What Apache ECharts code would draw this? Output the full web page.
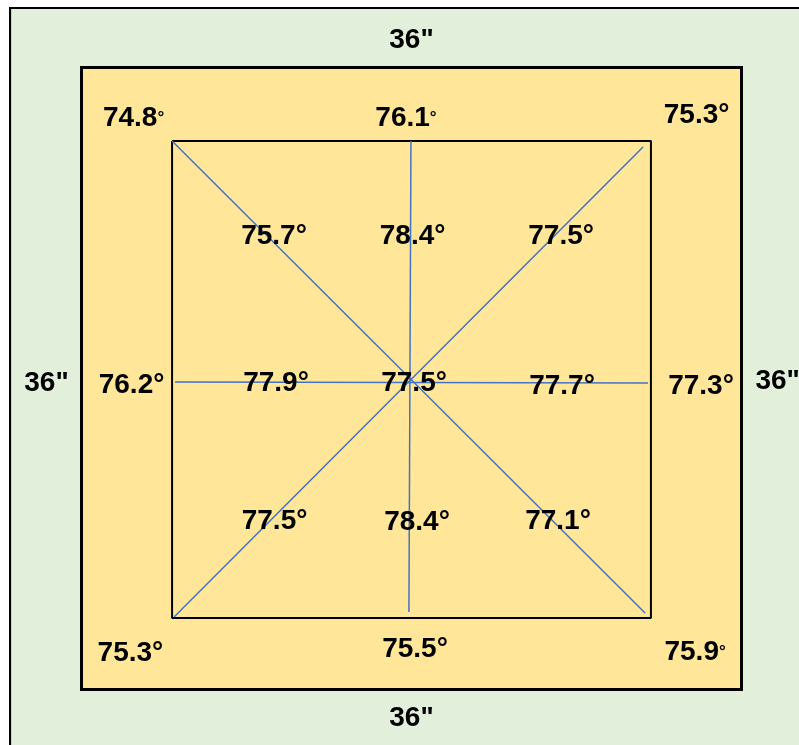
<!DOCTYPE html>
<html>
<head>
<meta charset="utf-8">
<script src="https://cdn.jsdelivr.net/npm/echarts@6/dist/echarts.min.js"></script>
<style>
  html, body { margin: 0; padding: 0; background: #fff; }
  #main { width: 799px; height: 745px; }
</style>
</head>
<body>
<div id="main"></div>
<script>
// board size in inches
var boardSize = 36;

// temperature readings and where they were taken (inches from top-left of the board)
var readings = [74.8, 76.1, 75.3, 75.7, 78.4, 77.5, 76.2, 77.9, 77.5, 77.7, 77.3, 77.5, 78.4, 77.1, 75.3, 75.5, 75.9];
var readX = [2.84, 17.7, 33.55, 10.5, 18.06, 26.16, 2.73, 10.61, 18.14, 26.21, 33.79, 10.53, 18.3, 25.99, 2.67, 18.19, 33.47];
var readY = [2.92, 2.92, 2.75, 9.75, 9.75, 9.75, 18.37, 18.26, 18.26, 18.43, 18.43, 26.24, 26.3, 26.24, 33.88, 33.7, 33.82];
// readings written with the little degree sign
var smallDeg = [0, 1, 16];

// dimension labels around the board
var dimX = [18.0, 18.0, -1.91, 37.97];
var dimY = [-1.59, 37.65, 18.26, 18.14];

// inner square and the cross lines
var innerBox = [[4.94, 4.25], [31.06, 4.25], [31.06, 31.86], [4.94, 31.86], [4.94, 4.25]];
var crossLines = [
  [[4.94, 4.25], [30.74, 31.57]],
  [[30.63, 4.6], [5.05, 31.8]],
  [[17.97, 4.25], [17.86, 31.51]],
  [[5.1, 18.2], [30.9, 18.26]]
];

var font = "'Liberation Sans', Arial, sans-serif";

var chart = echarts.init(document.getElementById('main'), null, { renderer: 'canvas' });

var readData = readings.map(function (v, i) {
  return { value: [readX[i], readY[i]], temp: v, small: smallDeg.indexOf(i) >= 0 };
});
var dimData = dimX.map(function (x, i) {
  return [x, dimY[i]];
});

var series = [];
// inner square
series.push({
  type: 'line',
  data: innerBox,
  symbol: 'none',
  silent: true,
  lineStyle: { color: '#000', width: 2 },
  z: 2
});
// blue lines
crossLines.forEach(function (seg) {
  series.push({
    type: 'line',
    data: seg,
    symbol: 'none',
    silent: true,
    lineStyle: { color: '#4472C4', width: 1.5 },
    z: 3
  });
});
// readings
series.push({
  type: 'scatter',
  data: readData,
  symbolSize: 0,
  silent: true,
  clip: false,
  z: 5,
  itemStyle: { opacity: 1, color: '#000' },
  label: {
    show: true,
    position: 'inside',
    color: '#000',
    opacity: 1,
    textBorderWidth: 0,
    formatter: function (p) {
      var t = p.data.temp.toFixed(1);
      return '{n|' + t + '}' + (p.data.small ? '{s|°}' : '{n|°}');
    },
    rich: {
      n: { fontFamily: font, fontSize: 28, fontWeight: 'bold', color: '#000', textBorderWidth: 0 },
      s: { fontFamily: font, fontSize: 17, fontWeight: 'bold', color: '#000', textBorderWidth: 0 }
    }
  }
});
// 36" labels
series.push({
  type: 'scatter',
  data: dimData,
  symbolSize: 0,
  silent: true,
  clip: false,
  z: 5,
  itemStyle: { opacity: 1, color: '#000' },
  label: {
    show: true,
    position: 'inside',
    formatter: function () { return boardSize + '"'; },
    fontFamily: font,
    fontSize: 28,
    fontWeight: 'bold',
    color: '#000',
    opacity: 1,
    textBorderWidth: 0
  }
});

var option = {
  animation: false,
  backgroundColor: '#E2EFDA',
  grid: {
    left: 81.5,
    top: 67.5,
    width: 660,
    height: 622,
    show: true,
    backgroundColor: '#FFE699',
    borderColor: '#000',
    borderWidth: 3
  },
  xAxis: { type: 'value', min: 0, max: boardSize, show: false },
  yAxis: { type: 'value', min: 0, max: boardSize, inverse: true, show: false },
  graphic: [
    { type: 'rect', shape: { x: 0, y: 0, width: 799, height: 7 }, style: { fill: '#fff' }, silent: true },
    { type: 'rect', shape: { x: 0, y: 0, width: 9, height: 745 }, style: { fill: '#fff' }, silent: true },
    { type: 'line', shape: { x1: 9, y1: 8, x2: 799, y2: 8 }, style: { stroke: '#000', lineWidth: 2 }, silent: true },
    { type: 'line', shape: { x1: 10, y1: 7, x2: 10, y2: 745 }, style: { stroke: '#000', lineWidth: 2 }, silent: true },
    { type: 'line', shape: { x1: 11.5, y1: 9, x2: 11.5, y2: 745 }, style: { stroke: '#c8d0c4', lineWidth: 1 }, silent: true }
  ],
  series: series
};

chart.setOption(option);
</script>
</body>
</html>
